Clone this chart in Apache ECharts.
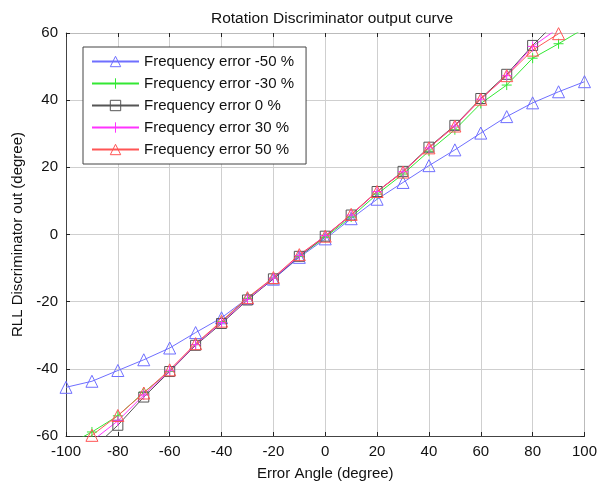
<!DOCTYPE html>
<html>
<head>
<meta charset="utf-8">
<script src="https://cdn.jsdelivr.net/npm/echarts@6/dist/echarts.min.js"></script>
<style>
  html, body { margin: 0; padding: 0; background: #fff; }
  #chart { width: 600px; height: 486px; }
</style>
</head>
<body>
<div id="chart"></div>
<script>
var angles = [-100, -90, -80, -70, -60, -50, -40, -30, -20, -10, 0, 10, 20, 30, 40, 50, 60, 70, 80, 90, 100];
var errM50 = [-45.5, -43.7, -40.5, -37.3, -33.8, -29.2, -24.8, -19, -13.3, -6.8, -1.3, 4.7, 10.5, 15.5, 20.5, 25.2, 30.2, 35.1, 39.2, 42.5, 45.5];
var errM30 = [-63, -58.8, -54, -47, -40.8, -32.8, -26, -19, -13, -6.5, -0.8, 5.2, 12, 18, 24.8, 31.2, 39, 44.5, 52.5, 56.8, 61.4];
var err0 = [-72, -64, -56.8, -48.4, -40.8, -33, -26.5, -19.5, -13.2, -6.5, -0.5, 5.8, 12.8, 18.8, 26, 32.5, 40.5, 47.7, 56.3, 64, 72];
var errP30 = [-67, -61.5, -55.5, -47.8, -40.6, -32.8, -26.2, -19.3, -13, -6.3, -0.3, 5.8, 12.8, 18.7, 25.8, 32.3, 40.3, 47.3, 56, 61.5, 67];
var errP50 = [-65, -59.8, -53.9, -47.2, -40.3, -32.5, -25.8, -18.8, -12.8, -6, -0.5, 6, 12.8, 18.6, 25.8, 32.3, 40.3, 47.3, 54.9, 59.8, 65];
var seriesNames = ['Frequency error -50 %', 'Frequency error -30 %', 'Frequency error 0 %', 'Frequency error 30 %', 'Frequency error 50 %'];
var seriesColors = ['#6f6fff', '#33e833', '#555555', '#ff33ff', '#ff5555'];

var plusSymbol = 'path://M5,0L5,10M0,5L10,5';
var clear = 'rgba(255,255,255,0)';

// hollow markers: each point gets a see-through fill, the series keeps its real colour
function points(ys, color) {
    return angles.map(function (a, i) {
        return { value: [a, ys[i]], itemStyle: { color: clear, borderColor: color, borderWidth: 1 } };
    });
}

function makeSeries(idx, ys, symbol, size) {
    var color = seriesColors[idx];
    return {
        name: seriesNames[idx],
        type: 'line',
        data: points(ys, color),
        symbol: symbol,
        symbolSize: size,
        showAllSymbol: true,
        clip: true,
        lineStyle: { color: color, width: 1 },
        itemStyle: { color: color, borderColor: color, borderWidth: 1 },
        emphasis: { disabled: true },
        z: 3
    };
}

var fontFam = '"Liberation Sans", Arial, sans-serif';

var legendData = seriesNames.map(function (n, i) {
    return {
        name: n,
        itemStyle: { color: clear, borderColor: seriesColors[i], borderWidth: 1 }
    };
});

var option = {
    backgroundColor: '#fff',
    animation: false,
    color: seriesColors,
    textStyle: { fontFamily: fontFam },
    title: {
        text: 'Rotation Discriminator output curve',
        left: 327,
        textAlign: 'center',
        top: 6,
        textStyle: { fontSize: 15.5, fontWeight: 'normal', color: '#111', fontFamily: fontFam }
    },
    legend: {
        orient: 'vertical',
        left: 83,
        top: 47,
        padding: [7, 12, 7, 8],
        itemWidth: 47,
        itemHeight: 13,
        itemGap: 7,
        borderColor: '#444',
        borderWidth: 1,
        backgroundColor: '#fff',
        data: legendData,
        textStyle: { fontSize: 15, color: '#111', fontFamily: fontFam }
    },
    grid: { left: 66, right: 12, top: 33, bottom: 48 },
    xAxis: [{
        type: 'value',
        min: -100, max: 100, interval: 20,
        name: 'Error Angle (degree)',
        nameLocation: 'middle',
        nameGap: 30,
        nameTextStyle: { fontSize: 15, color: '#111' },
        axisLine: { onZero: false, lineStyle: { color: '#444' } },
        axisTick: { inside: true, length: 4, lineStyle: { color: '#222' } },
        axisLabel: { fontSize: 15, color: '#111', margin: 8 },
        splitLine: { show: true, lineStyle: { color: '#cfcfcf' } }
    }, {
        type: 'value',
        position: 'top',
        min: -100, max: 100, interval: 20,
        axisLine: { show: true, onZero: false, lineStyle: { color: '#bbb' } },
        axisTick: { inside: true, length: 4, lineStyle: { color: '#222' } },
        axisLabel: { show: false },
        splitLine: { show: false }
    }],
    yAxis: [{
        type: 'value',
        min: -60, max: 60, interval: 20,
        name: 'RLL Discriminator out (degree)',
        nameLocation: 'middle',
        nameGap: 33,
        nameTextStyle: { fontSize: 15, color: '#111' },
        axisLine: { show: true, onZero: false, lineStyle: { color: '#444' } },
        axisTick: { show: true, inside: true, length: 4, lineStyle: { color: '#222' } },
        axisLabel: { fontSize: 15, color: '#111', margin: 8 },
        splitLine: { show: true, lineStyle: { color: '#cfcfcf' } }
    }, {
        type: 'value',
        position: 'right',
        min: -60, max: 60, interval: 20,
        axisLine: { show: true, onZero: false, lineStyle: { color: '#bbb' } },
        axisTick: { show: true, inside: true, length: 4, lineStyle: { color: '#222' } },
        axisLabel: { show: false },
        splitLine: { show: false }
    }],
    series: [
        makeSeries(0, errM50, 'triangle', 12),
        makeSeries(1, errM30, plusSymbol, 10),
        makeSeries(2, err0, 'rect', 10),
        makeSeries(3, errP30, plusSymbol, 10),
        makeSeries(4, errP50, 'triangle', 12)
    ]
};

var myChart = echarts.init(document.getElementById('chart'));
myChart.setOption(option);
</script>
</body>
</html>
